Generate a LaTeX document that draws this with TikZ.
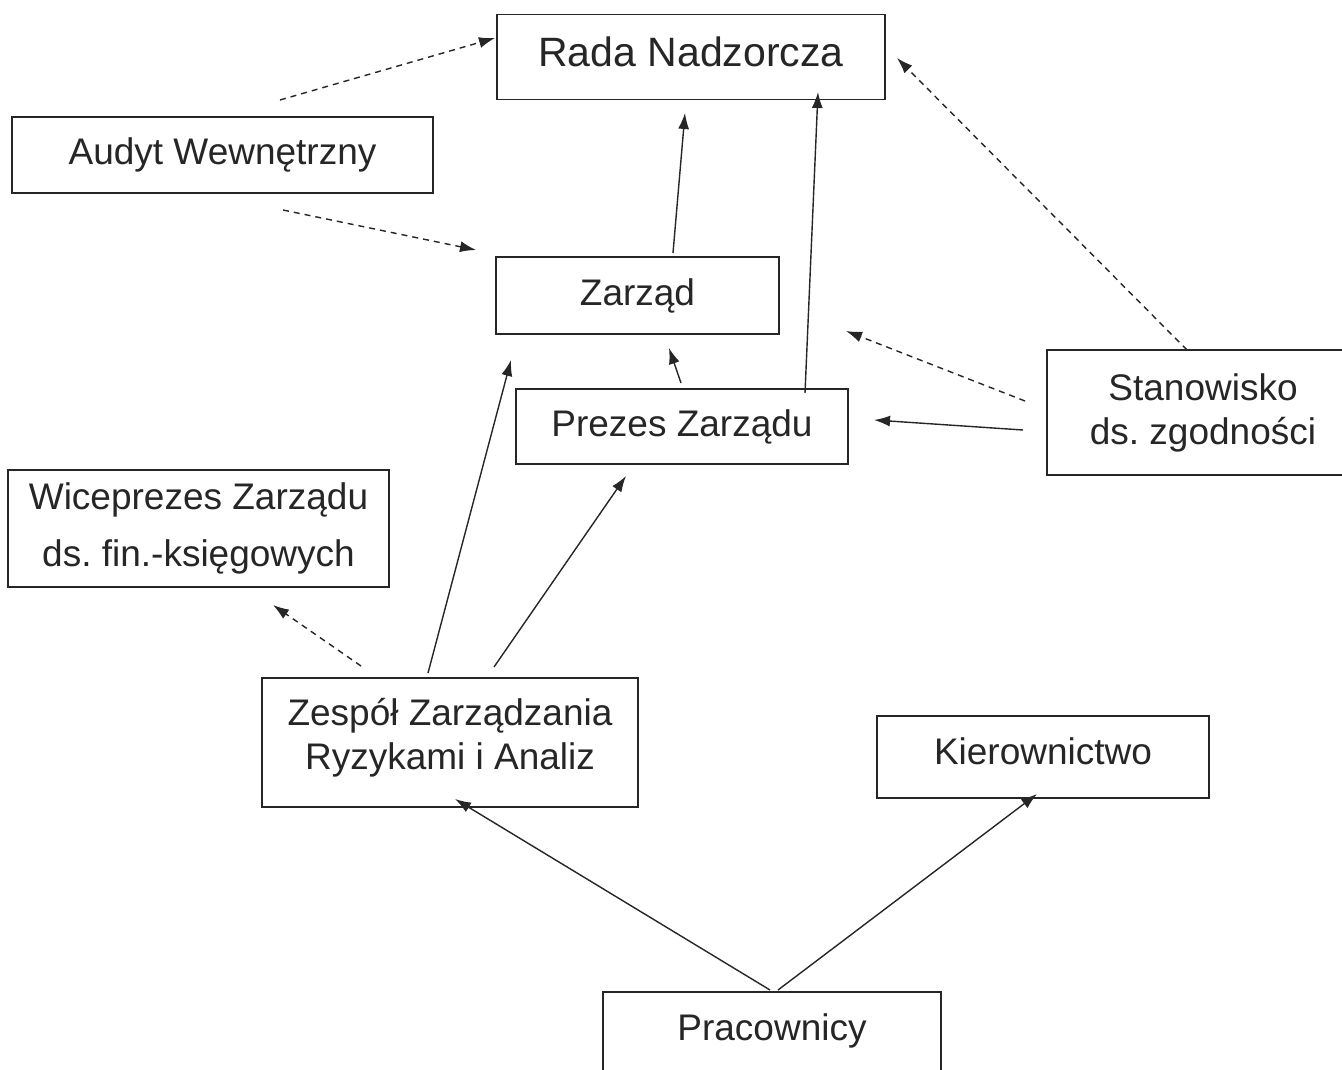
\documentclass[tikz,border=0pt]{standalone}
\usepackage{fontspec}
\setmainfont{Liberation Sans}
\usetikzlibrary{arrows.meta}
\begin{document}
\frenchspacing
\begin{tikzpicture}[x=1pt,y=-1pt,
  box/.style={draw=black!85,line width=1.5pt,rectangle,inner sep=0pt,align=center,
    font=\fontsize{37}{44}\selectfont,text=black!85},
  conn/.style={draw=black!85,line width=1.4pt,-{Latex[length=16pt,width=11pt]}},
  dconn/.style={conn,dash pattern=on 6pt off 5pt}]
\useasboundingbox[fill=white] (0,0) rectangle (1342,1070);
\node[box,minimum width=388pt,minimum height=85pt,text depth=10pt,font=\fontsize{41}{48}\selectfont] (rada) at (691,57) {Rada Nadzorcza};
\node[box,minimum width=421pt,minimum height=76pt] (audyt) at (222.5,155) {Audyt Wewnętrzny};
\node[box,minimum width=283pt,minimum height=77pt] (zarzad) at (637.5,295.5) {Zarząd};
\node[box,minimum width=332pt,minimum height=75pt] (prezes) at (682,426.5) {Prezes Zarządu};
\node[box,minimum width=312pt,minimum height=125pt] (stan) at (1203,412.5) {Stanowisko\\ds. zgodności};
\node[box,minimum width=381pt,minimum height=117pt,font=\fontsize{37}{57}\selectfont] (wice) at (198.5,528.5) {Wiceprezes Zarządu\\ds. fin.-księgowych};
\node[box,minimum width=376pt,minimum height=129pt,text depth=18pt] (zesp) at (450,742.5) {Zespół Zarządzania\\Ryzykami i Analiz};
\node[box,minimum width=332pt,minimum height=82pt,text depth=12pt] (kier) at (1043,757) {Kierownictwo};
\node[box,minimum width=338pt,minimum height=96pt,text depth=26pt] (prac) at (772,1040) {Pracownicy};
% connector end points
\coordinate (a1) at (280,100);  \coordinate (a2) at (495,38);
\coordinate (a3) at (283,210);  \coordinate (a4) at (476,250);
\coordinate (z1) at (673,253);  \coordinate (z2) at (685,113);
\coordinate (p1) at (805,393);  \coordinate (p2) at (818,92);
\coordinate (p3) at (681,383);  \coordinate (p4) at (669,348);
\coordinate (s1) at (1187,350); \coordinate (s2) at (897,58);
\coordinate (s3) at (1025,401); \coordinate (s4) at (846,331);
\coordinate (s5) at (1023,430); \coordinate (s6) at (874,420);
\coordinate (r1) at (428,673);  \coordinate (r2) at (511,360);
\coordinate (r3) at (494,667);  \coordinate (r4) at (626,476);
\coordinate (r5) at (361,666);  \coordinate (r6) at (273,605);
\coordinate (w1) at (770,990);  \coordinate (w2) at (455,799);
\coordinate (w3) at (778,990);  \coordinate (w4) at (1037,794);
\draw[dconn] (a1) -- (a2);
\draw[dconn] (a3) -- (a4);
\draw[conn] (z1) -- (z2);
\draw[conn] (p1) -- (p2);
\draw[conn] (p3) -- (p4);
\draw[dconn] (s1) -- (s2);
\draw[dconn] (s3) -- (s4);
\draw[conn] (s5) -- (s6);
\draw[conn] (r1) -- (r2);
\draw[conn] (r3) -- (r4);
\draw[dconn] (r5) -- (r6);
\draw[conn] (w1) -- (w2);
\draw[conn] (w3) -- (w4);
\end{tikzpicture}
\end{document}
